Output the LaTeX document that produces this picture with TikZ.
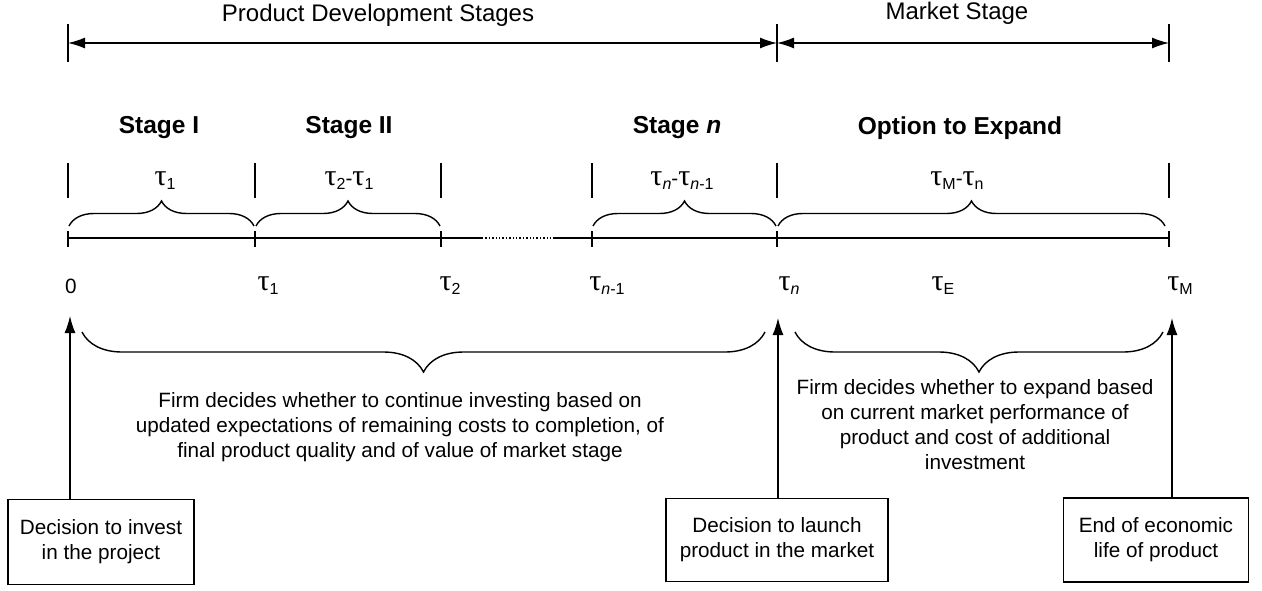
\documentclass[tikz,border=0pt]{standalone}
\usepackage{fontspec}
\setmainfont{Liberation Sans}
\newfontfamily\greekfont{Liberation Serif}
\usetikzlibrary{arrows.meta, calc, positioning, decorations.pathreplacing}

\newcommand{\tu}{{\greekfont\fontsize{30}{30}\selectfont τ}}
\newcommand{\tsub}[1]{\tu\raisebox{-4pt}{\fontsize{16}{16}\selectfont #1}}

\begin{document}
\begin{tikzpicture}[x=1pt, y=-1pt, >={Latex[length=17pt,width=11pt]}, line width=1.4pt,
  font=\fontsize{20.7}{25}\selectfont,
  tick/.style={line width=1.2pt},
  title/.style={font=\fontsize{24}{28}\selectfont},
  stagehead/.style={font=\fontsize{24.5}{28}\selectfont\bfseries},
  upbrace/.style={decorate, decoration={brace, amplitude=25pt}},
  downbrace/.style={decorate, decoration={brace, mirror, amplitude=40pt}},
  decbox/.style={draw, rectangle, align=center, inner sep=0pt}]

\useasboundingbox (0,0) rectangle (1262,590);

% points on the time line
\coordinate (p0) at (68,238);
\coordinate (p1) at (255,238);
\coordinate (p2) at (441,238);
\coordinate (pn1) at (592,238);
\coordinate (pn) at (777,238);
\coordinate (pM) at (1169,238);
\coordinate (dotA) at (482,238);
\coordinate (dotB) at (555,238);

\draw (p0) -- (dotA);
\draw[dotted] (dotA) -- (dotB);
\draw (dotB) -- (pM);
\foreach \p in {p0,p1,p2,pn1,pn,pM}
  \draw[tick] ($(\p)+(0,-7)$) -- ($(\p)+(0,9)$);

% ticks above the stages
\foreach \p in {p0,p1,p2,pn1,pn,pM}
  \draw[tick] ($(\p)+(0,-75)$) -- ($(\p)+(0,-40)$);

% stage arrows at the top
\coordinate (top0) at ($(p0)+(0,-195)$);
\coordinate (topn) at ($(pn)+(0,-195)$);
\coordinate (topM) at ($(pM)+(0,-195)$);
\foreach \p in {top0,topn,topM}
  \draw[tick] ($(\p)+(0,-19)$) -- ($(\p)+(0,19)$);
\draw[<->] (top0) -- (topn);
\draw[<->] (topn) -- (topM);
\node[title] (devstages) at (378,15) {Product Development Stages};
\node[title] (mktstage) at (957,13) {Market Stage};

% stage names
\node[stagehead] (stI) at (159,128) {Stage I};
\node[stagehead] (stII) at (349,128) {Stage II};
\node[stagehead] (stn) at (677,128) {Stage \textit{n}};
\node[stagehead] (stexp) at (960,128) {Option to Expand};

% lengths of the stages
\node (len1) at (165,181) {\tsub{1}};
\node (len2) at (349,181) {\tsub{2}-\tsub{1}};
\node (lenn) at (682,181) {\tsub{\textit{n}}-\tsub{\textit{n}-1}};
\node (lenM) at (957,181) {\tsub{M}-\tsub{n}};

% braces over the time line
\draw[upbrace] ($(p0)+(1,-12)$) -- ($(p1)+(-1,-12)$);
\draw[upbrace] ($(p1)+(1,-12)$) -- ($(p2)+(-1,-12)$);
\draw[upbrace] ($(pn1)+(1,-12)$) -- ($(pn)+(-1,-12)$);
\draw[upbrace] ($(pn)+(1,-12)$) -- ($(pM)+(-4,-12)$);

% labels below the time line
\node (l0) at (71,286) {0};
\node (l1) at (268,286) {\tsub{1}};
\node (l2) at (450,286) {\tsub{2}};
\node (ln1) at (607,286) {\tsub{\textit{n}-1}};
\node (ln) at (789,286) {\tsub{\textit{n}}};
\node (lE) at (943,286) {\tsub{E}};
\node (lM) at (1180,286) {\tsub{M}};

% braces below
\draw[downbrace] (82,332) -- (765,332);
\draw[downbrace] (795,332) -- (1163,332);
\node[align=center] (devtext) at (400,427) {Firm decides whether to continue investing based on\\updated expectations of remaining costs to completion, of\\final product quality and of value of market stage};
\node[align=center] (mkttext) at (975,425) {Firm decides whether to expand based\\on current market performance of\\product and cost of additional\\investment};

% decision boxes
\node[decbox, minimum width=186pt, minimum height=85pt] (invest) at (101,542) {Decision to invest\\in the project};
\node[decbox, minimum width=222pt, minimum height=83pt] (launch) at (777,540) {Decision to launch\\product in the market};
\node[decbox, minimum width=185pt, minimum height=84pt] (endlife) at (1156,540) {End of economic\\life of product};

\coordinate (a0) at (70,316);
\coordinate (an) at (778,318);
\coordinate (aM) at (1172,318);
\draw[->] (invest.north -| a0) -- (a0);
\draw[->] (launch.north -| an) -- (an);
\draw[->] (endlife.north -| aM) -- (aM);

\end{tikzpicture}
\end{document}
